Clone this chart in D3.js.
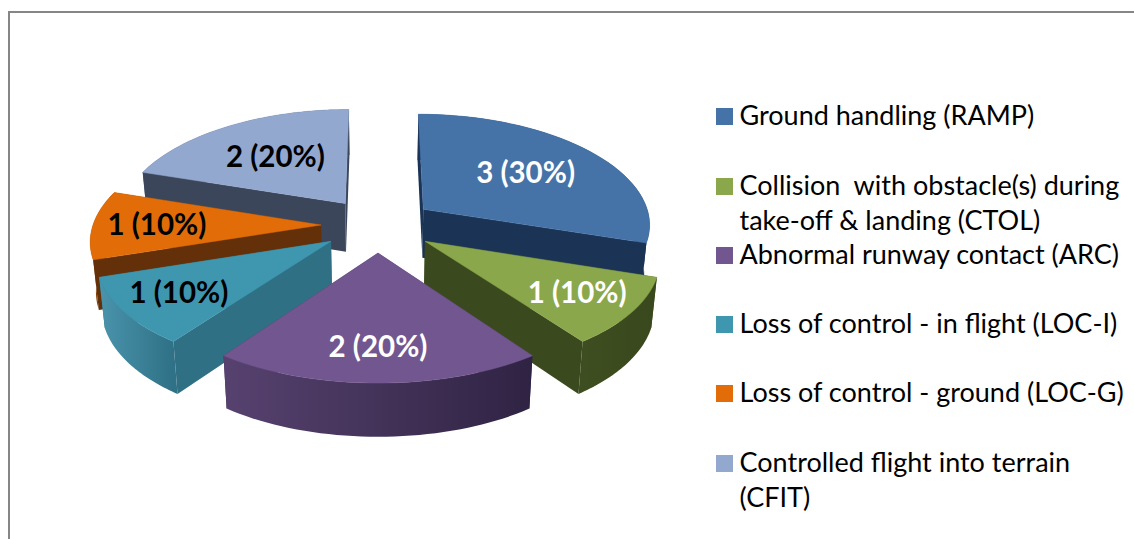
<!DOCTYPE html>
<html><head><meta charset="utf-8">
<script src="https://cdnjs.cloudflare.com/ajax/libs/d3/7.8.5/d3.min.js"></script>
<style>html,body{margin:0;padding:0;background:#fff;overflow:hidden}svg{display:block}</style>
</head><body><svg id="c" width="1134" height="539"></svg>
<script>
const categories = ["Ground handling (RAMP)","Collision  with obstacle(s) during","Abnormal runway contact (ARC)","Loss of control - in flight (LOC-I)","Loss of control - ground (LOC-G)","Controlled flight into terrain"];
const categoryLine2 = ["","take-off & landing (CTOL)","","","","(CFIT)"];
const values = [3,1,2,1,1,2];
const topColors = ["#4673a7","#8ba74c","#72568f","#3f97af","#e26d08","#93a8cf"];
const radialColors = ["#1b3456","#3a4a1e","#3a2a52","#2f7085","#63300a","#3c465b"];
const arcLeft = ["#24426c","#3f4e20","#57426f","#4a94ac","#8a4806","#56637f"];
const arcRight = ["#182e4c","#39481d","#2f2343","#2f7186","#6b3608","#3c465b"];
const labelColors = ["#fff","#fff","#fff","#000","#000","#000"];
const labelReach = [0.6,0.75,0.75,0.75,0.72,0.58];

const svg = d3.select("#c");
const cx=378, cy=225, R=228, A=108.9, p=0.111, px=0.125, e=0.25, D=49, under=0.98;
function project(X,Y,low){
  const s=1/(1-p*Y), sx=1/(1-px*Y);
  const x=R*X*sx, y=A*Y*s;
  return low ? [cx+x*under, cy+y*under+D*s] : [cx+x, cy+y];
}
const pie=d3.pie().sort(null).value(d=>d)(values);
const line=d3.line();
const defs=svg.append("defs");

svg.append("path").attr("d","M9,539V12H1134").attr("fill","none").attr("stroke","#868686").attr("stroke-width",2);

const paintOrder=[5,0,4,3,1,2];
paintOrder.forEach(i=>{
  const a0=pie[i].startAngle,a1=pie[i].endAngle,mid=(a0+a1)/2;
  const ox=e*Math.sin(mid), oy=-e*Math.cos(mid);
  const pt=(a,f,low)=>project(ox+f*Math.sin(a),oy-f*Math.cos(a),low);
  const angles=d3.range(0,41).map(k=>a0+(a1-a0)*k/40);
  const rim=angles.map(a=>pt(a,1,false));
  const rimLow=angles.map(a=>pt(a,1,true));
  const g=svg.append("g");
  const grad=defs.append("linearGradient").attr("id","w"+i).attr("gradientUnits","userSpaceOnUse")
    .attr("x1",d3.min(rim,d=>d[0])).attr("x2",d3.max(rim,d=>d[0])).attr("y1",0).attr("y2",0);
  grad.append("stop").attr("offset",0).attr("stop-color",arcLeft[i]);
  grad.append("stop").attr("offset",1).attr("stop-color",arcRight[i]);
  // walls painted far-to-near so back-facing ones stay hidden
  const walls=[
    {depth:(oy-Math.cos(a0)/2),fill:radialColors[i],d:line([pt(a0,0,false),pt(a0,1,false),pt(a0,1,true),pt(a0,0,true)])+"Z"},
    {depth:(oy-Math.cos(a1)/2),fill:radialColors[i],d:line([pt(a1,0,false),pt(a1,1,false),pt(a1,1,true),pt(a1,0,true)])+"Z"},
    {depth:(oy-d3.mean(angles,Math.cos)),fill:`url(#w${i})`,d:line(rim.concat(rimLow.slice().reverse()))+"Z"}
  ].sort((u,v)=>u.depth-v.depth);
  walls.forEach(w=>g.append("path").attr("fill",w.fill).attr("d",w.d));
  g.append("path").attr("fill",topColors[i]).attr("stroke",topColors[i]).attr("stroke-width",.5)
   .attr("d",line([pt(a0,0,false)].concat(rim))+"Z");
});

pie.forEach((d,i)=>{
  const mid=(d.startAngle+d.endAngle)/2,f=labelReach[i]+e;
  const [x,y]=project(f*Math.sin(mid),-f*Math.cos(mid),false);
  svg.append("text").attr("x",x).attr("y",y+10).attr("text-anchor","middle")
    .attr("font-family","Lato").attr("font-weight",700).attr("font-size",29.5).attr("fill",labelColors[i])
    .text(`${values[i]} (${Math.round(values[i]/d3.sum(values)*100)}%)`);
});

const legendY=d3.scaleOrdinal().domain(categories).range([125,195,264,333,402,472]);
categories.forEach((c,i)=>{
  const y=legendY(c);
  svg.append("rect").attr("x",716).attr("y",y-17).attr("width",17).attr("height",17).attr("fill",topColors[i]);
  const t=svg.append("text").attr("font-family","Lato").attr("font-size",27).attr("fill","#000");
  t.append("tspan").attr("x",739.5).attr("y",y).style("white-space","pre").text(c);
  if(categoryLine2[i]) t.append("tspan").attr("x",739.5).attr("y",y+35).text(categoryLine2[i]);
});
</script></body></html>
